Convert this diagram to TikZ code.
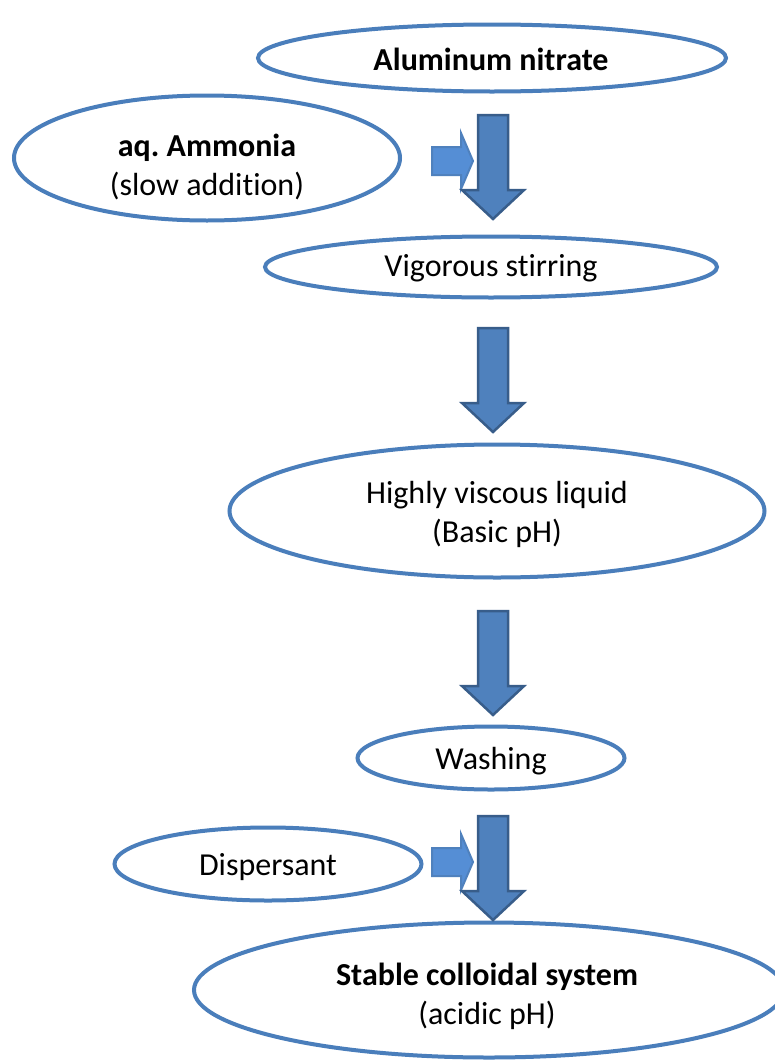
\documentclass[tikz,border=0pt]{standalone}
\usepackage{fontspec}
\setmainfont[Ligatures={NoCommon}]{Carlito}
\usetikzlibrary{shapes.geometric}
\definecolor{ringblue}{HTML}{4A7EBB}
\definecolor{arrfill}{HTML}{4F81BD}
\definecolor{arrline}{HTML}{385D8A}
\definecolor{smallfill}{HTML}{558ED5}
\tikzset{
  oval/.style={ellipse, draw=ringblue, line width=4pt, fill=white, inner sep=0pt},
  ovaltext/.style={align=center, inner sep=0pt, font=\fontsize{32}{39}\selectfont},
  bigarrow/.style={fill=arrfill, draw=arrline, line width=2.5pt, line join=miter},
  smallarrow/.style={fill=smallfill, draw=arrfill, line width=2pt, line join=miter},
}
% #1 name, #2 x centre, #3 top y
\newcommand\downblock[3]{%
  \coordinate (#1) at (#2,#3);
  \draw[bigarrow] ([xshift=-15pt]#1) -- ([xshift=15pt]#1) -- ([xshift=15pt,yshift=-75pt]#1)
    -- ([xshift=31pt,yshift=-75pt]#1) -- ([yshift=-104pt]#1) -- ([xshift=-31pt,yshift=-75pt]#1)
    -- ([xshift=-15pt,yshift=-75pt]#1) -- cycle;}
% #1 name, #2 left x, #3 centre y
\newcommand\rightblock[3]{%
  \coordinate (#1) at (#2,#3);
  \draw[smallarrow] ([yshift=14pt]#1) -- ([xshift=29pt,yshift=14pt]#1) -- ([xshift=29pt,yshift=28pt]#1)
    -- ([xshift=41pt]#1) -- ([xshift=29pt,yshift=-28pt]#1) -- ([xshift=29pt,yshift=-14pt]#1)
    -- ([yshift=-14pt]#1) -- cycle;}
\begin{document}
\begin{tikzpicture}[x=1pt,y=-1pt]
\useasboundingbox (0,0) rectangle (775,1063);
\fill[white] (0,0) rectangle (775,1063);

\node[oval, minimum width=468pt, minimum height=67pt] (alnit) at (492,58) {};
\node[ovaltext] (alnit-t) at (491,59) {\textbf{Aluminum nitrate}};
\node[oval, minimum width=386pt, minimum height=125pt] (ammonia) at (207,158) {};
\node[ovaltext] (ammonia-t) at (207,167) {\textbf{aq.\ Ammonia}\\(slow addition)};
\node[oval, minimum width=452pt, minimum height=61pt] (stir) at (491,267) {};
\node[ovaltext] (stir-t) at (491,268) {Vigorous stirring};
\node[oval, minimum width=535pt, minimum height=133pt] (visc) at (497,511) {};
\node[ovaltext] (visc-t) at (497,514) {Highly viscous liquid\\(Basic pH)};
\node[oval, minimum width=267pt, minimum height=63pt] (wash) at (491,758) {};
\node[ovaltext] (wash-t) at (491,761) {Washing};
\node[oval, minimum width=307pt, minimum height=73pt] (disp) at (268,864) {};
\node[ovaltext] (disp-t) at (268,867) {Dispersant};
\node[oval, minimum width=590pt, minimum height=135pt] (stable) at (489,990) {};
\node[ovaltext] (stable-t) at (487,996) {\textbf{Stable colloidal system}\\(acidic pH)};

\rightblock{ra}{432}{161}
\downblock{da}{493}{115}
\downblock{db}{493}{328}
\downblock{dc}{493}{611}
\rightblock{rb}{432}{862}
\downblock{dd}{493}{816}
\end{tikzpicture}
\end{document}
